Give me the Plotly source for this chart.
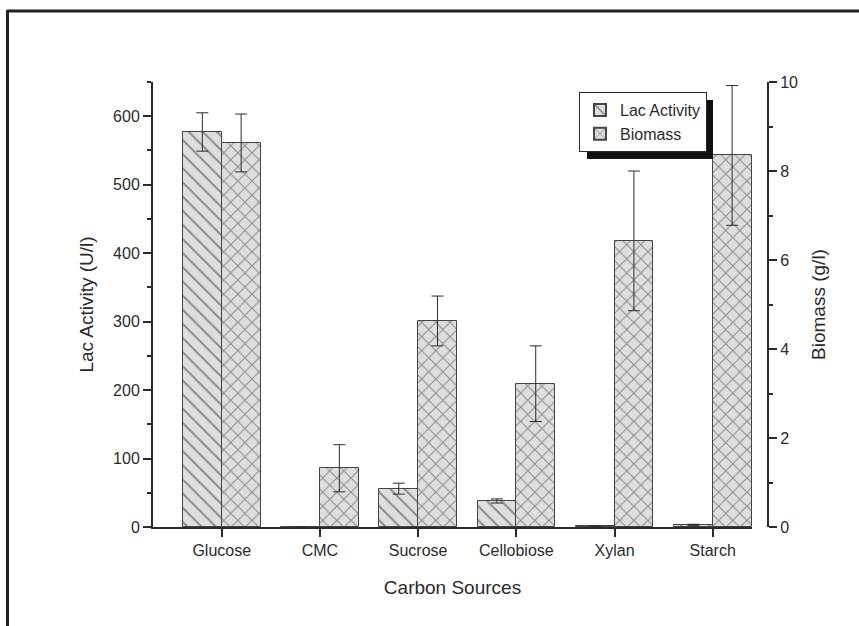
import plotly.graph_objects as go

# Carbon sources tested
categories = ["Glucose", "CMC", "Sucrose", "Cellobiose", "Xylan", "Starch"]

# Laccase activity (U/l) and its standard deviation
lac_activity = [577, 0, 56, 38, 1, 3]
lac_error = [28, 0, 8, 3, 0.5, 1]

# Biomass (g/l) and its standard deviation
biomass = [8.63, 1.32, 4.63, 3.22, 6.43, 8.35]
biomass_error = [0.65, 0.53, 0.56, 0.85, 1.57, 1.57]

W, H = 859, 626
ML, MR, MT, MB = 153, 91, 82, 99
PW, PH = W - ML - MR, H - MT - MB

positions = list(range(1, len(categories) + 1))
bar_w = 0.395
ink = "#2b2b2b"
hatch = "#3a3a3a"
fill = "#dedede"
font = dict(family="Liberation Sans, Arial, sans-serif", size=16, color=ink)


def px_x(px):
    return (px - ML) / PW


def px_y(py):
    return (H - MB - py) / PH


fig = go.Figure()

fig.add_trace(go.Bar(
    name="Lac Activity",
    x=positions, y=lac_activity,
    width=bar_w, offset=-bar_w,
    marker=dict(
        color=fill,
        line=dict(color="#444", width=1),
        pattern=dict(shape="\\", size=10, solidity=0.2,
                     fgcolor=hatch, bgcolor=fill, fillmode="overlay"),
    ),
    error_y=dict(type="data", array=lac_error, color=ink, thickness=1, width=6),
    yaxis="y",
))

fig.add_trace(go.Bar(
    name="Biomass",
    x=positions, y=biomass,
    width=bar_w, offset=0,
    marker=dict(
        color=fill,
        line=dict(color="#444", width=1),
        pattern=dict(shape="x", size=10, solidity=0.2,
                     fgcolor=hatch, bgcolor=fill, fillmode="overlay"),
    ),
    error_y=dict(type="data", array=biomass_error, color=ink, thickness=1, width=6),
    yaxis="y2",
))

# Outer frame (top and left edges) and legend drop shadow
frame = [
    dict(type="line", xref="paper", yref="paper",
         x0=px_x(7), x1=px_x(W + 5), y0=px_y(11), y1=px_y(11),
         line=dict(color="#222", width=3)),
    dict(type="line", xref="paper", yref="paper",
         x0=px_x(7.5), x1=px_x(7.5), y0=px_y(10), y1=px_y(H + 5),
         line=dict(color="#222", width=3)),
    dict(type="rect", xref="paper", yref="paper",
         x0=px_x(587), x1=px_x(713), y0=px_y(100), y1=px_y(159),
         line=dict(width=0), fillcolor="#111", layer="above"),
]

fig.update_layout(
    width=W, height=H,
    margin=dict(l=ML, r=MR, t=MT, b=MB),
    paper_bgcolor="white", plot_bgcolor="white",
    font=font,
    barmode="overlay",
    bargap=0,
    shapes=frame,
    showlegend=True,
    legend=dict(
        x=px_x(579), y=px_y(92), xanchor="left", yanchor="top",
        bgcolor="white", bordercolor=ink, borderwidth=1,
        font=dict(family=font["family"], size=16, color=ink),
        tracegroupgap=0, itemsizing="constant",
    ),
    xaxis=dict(
        domain=[0, px_x(752)],
        range=[0.3, 6.4],
        tickmode="array", tickvals=positions, ticktext=categories,
        ticks="outside", ticklen=8, tickwidth=1.5, tickcolor=ink,
        showline=True, linecolor=ink, linewidth=2,
        showgrid=False, zeroline=False,
        title=dict(text="Carbon Sources", standoff=22),
    ),
    yaxis=dict(
        range=[0, 650],
        tickvals=[0, 100, 200, 300, 400, 500, 600],
        ticks="outside", ticklen=8, tickwidth=1.5, tickcolor=ink,
        minor=dict(tickvals=[50, 150, 250, 350, 450, 550, 650],
                   ticks="outside", ticklen=4, tickcolor=ink),
        showline=True, linecolor=ink, linewidth=2,
        showgrid=False, zeroline=False,
        title=dict(text="Lac Activity (U/l)", standoff=14),
    ),
    yaxis2=dict(
        range=[0, 10],
        tickvals=[0, 2, 4, 6, 8, 10],
        ticks="outside", ticklen=8, tickwidth=1.5, tickcolor=ink,
        minor=dict(tickvals=[1, 3, 5, 7, 9],
                   ticks="outside", ticklen=4, tickcolor=ink),
        showline=True, linecolor=ink, linewidth=2,
        showgrid=False, zeroline=False,
        overlaying="y", side="right", anchor="free", position=1.0,
        title=dict(text="Biomass (g/l)", standoff=14),
    ),
)

fig.write_html("out.html")
